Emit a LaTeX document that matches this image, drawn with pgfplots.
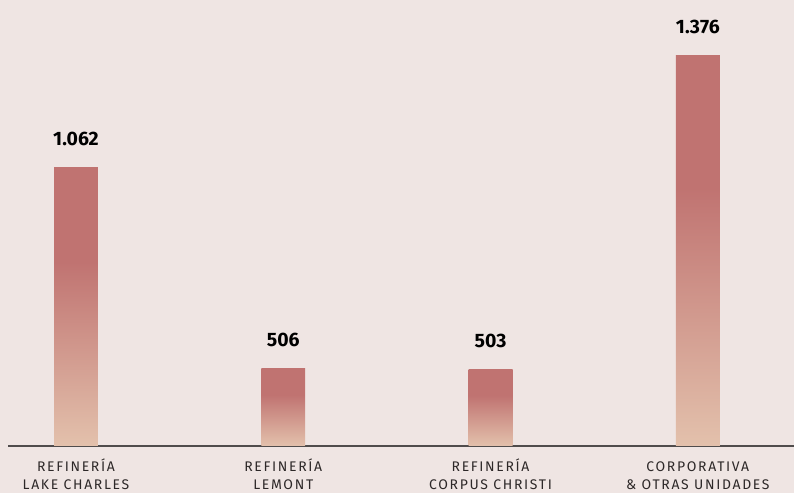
\documentclass[border=0pt]{standalone}
\usepackage{pgfplots}
\pgfplotsset{compat=1.18}
\usepackage{fontspec}
\setmainfont{Fira Sans}
\newfontfamily\catfont[LetterSpace=12]{Fira Sans}
\definecolor{bg}{RGB}{239,229,227}
\definecolor{bartop}{RGB}{192,115,113}
\definecolor{barbot}{RGB}{227,193,172}
\definecolor{axiscol}{RGB}{80,76,76}
\definecolor{labcol}{RGB}{45,40,40}
\pgfdeclareverticalshading{barshade}{100bp}{color(0bp)=(barbot); color(25bp)=(barbot); color(58bp)=(bartop); color(100bp)=(bartop)}
\newcommand{\lh}{\rule{0pt}{13bp}}
\begin{document}
\begin{tikzpicture}[x=1bp,y=1bp]
\fill[bg] (0,0) rectangle (794,493);
\begin{axis}[
  at={(8bp,47bp)}, anchor=south west,
  scale only axis,
  width=786bp, height=446bp,
  xmin=-0.328, xmax=3.464,
  ymin=0, ymax=1570,
  axis x line=bottom, axis y line=none,
  axis line style={-, axiscol, line width=1.6bp},
  major tick length=0,
  xtick={0,1,2,3},
  xticklabels={\lh REFINERÍA\\LAKE CHARLES, \lh REFINERÍA\\LEMONT, \lh REFINERÍA\\CORPUS CHRISTI, \lh CORPORATIVA\\\& OTRAS UNIDADES},
  xticklabel style={align=center, font=\catfont\fontsize{14}{18.5}\selectfont, text=labcol, yshift=-8.5bp},
  ybar, bar width=0.212, bar shift=0pt,
  clip=false,
  nodes near coords={\pgfplotspointmeta},
  point meta=explicit symbolic,
  every node near coord/.append style={font=\bfseries\fontsize{19.5}{22}\selectfont, text=black, yshift=18bp},
]
% drawn height (as in the picture) with the printed value as label
\addplot[draw=none, shade, shading=barshade] coordinates {(0,982) [1.062]};
\addplot[draw=none, shade, shading=barshade] coordinates {(1,273) [506]};
\addplot[draw=none, shade, shading=barshade] coordinates {(2,269) [503]};
\addplot[draw=none, shade, shading=barshade] coordinates {(3,1376) [1.376]};
\end{axis}
\pgfresetboundingbox
\path (0,0) rectangle (794,493);
\end{tikzpicture}
\end{document}
